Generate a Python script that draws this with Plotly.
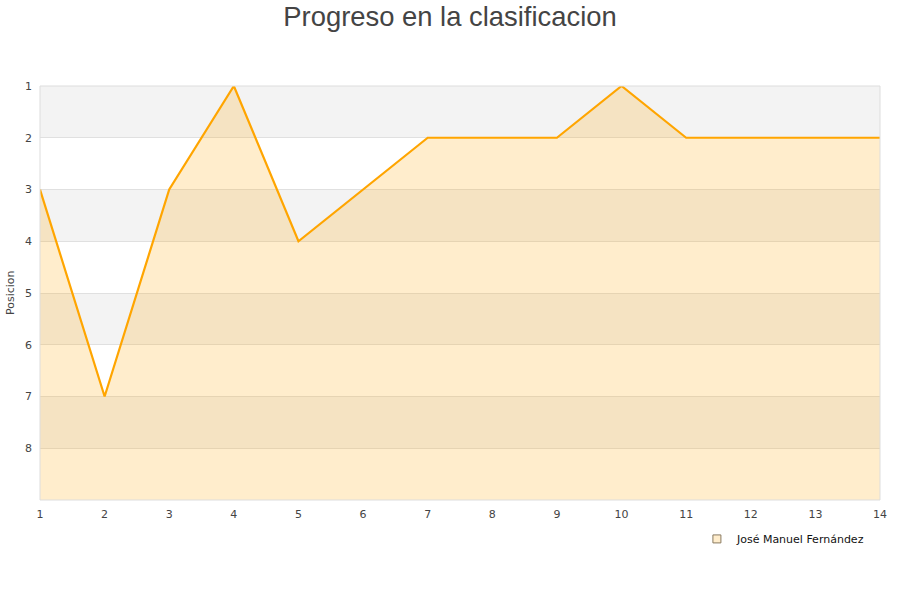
import plotly.graph_objects as go

jornadas = list(range(1, 15))
posiciones = [3, 7, 3, 1, 4, 3, 2, 2, 2, 1, 2, 2, 2, 2]
jugador = "José Manuel Fernández"
y_ticks = [1, 2, 3, 4, 5, 6, 7, 8]
y_bottom = 9

fig = go.Figure()

# baseline for fill
fig.add_trace(go.Scatter(x=jornadas, y=[y_bottom] * len(jornadas), mode="lines",
                         line=dict(width=0, color="rgba(0,0,0,0)"), showlegend=False,
                         hoverinfo="skip"))
fig.add_trace(go.Scatter(x=jornadas, y=posiciones, mode="lines", fill="tonexty",
                         fillcolor="rgba(255,165,0,0.2)",
                         line=dict(color="#ffa500", width=2.2), showlegend=False,
                         name=jugador))
# legend entry
fig.add_trace(go.Scatter(x=[None], y=[None], mode="markers", name=jugador,
                         marker=dict(symbol="square", size=8, color="#ffedcc",
                                     line=dict(color="#8a7a60", width=1))))

shapes = []
for k in range(1, 9, 2):
    shapes.append(dict(type="rect", xref="paper", yref="y", x0=0, x1=1, y0=k, y1=k + 1,
                       fillcolor="#f3f3f3", line=dict(width=0), layer="below"))
shapes.append(dict(type="rect", xref="paper", yref="paper", x0=0, x1=1, y0=0, y1=1,
                   line=dict(color="#dddddd", width=1), fillcolor="rgba(0,0,0,0)", layer="above"))

fig.update_layout(
    width=900, height=600,
    margin=dict(l=40, r=20, t=86, b=100, autoexpand=False),
    paper_bgcolor="white", plot_bgcolor="white",
    title=dict(text="Progreso en la clasificacion", x=0.5, xanchor="center",
               y=0.973, yanchor="middle",
               font=dict(family="Liberation Sans, Arial, sans-serif", size=27.4, color="#444444")),
    font=dict(family="DejaVu Sans, sans-serif", size=11, color="#444444"),
    shapes=shapes,
    xaxis=dict(range=[1, 14], tickvals=jornadas, showgrid=False, zeroline=False,
               showline=False, ticks="", automargin=False, ticklabelstandoff=6,
               tickfont=dict(size=11, color="#444444")),
    yaxis=dict(range=[y_bottom, 1], tickvals=y_ticks, showgrid=True, gridcolor="#e0e0e0",
               zeroline=False, showline=False, ticks="", automargin=False,
               ticklabelstandoff=7,
               tickfont=dict(size=11, color="#444444")),
    annotations=[dict(text="Posicion", xref="paper", yref="paper", x=-0.0357, y=0.5,
                      xanchor="center", yanchor="middle", textangle=-90, showarrow=False,
                      font=dict(size=11, color="#444444"))],
    legend=dict(x=0.988, xanchor="right", y=-0.094, yanchor="middle",
                font=dict(size=11, color="#111111"), bgcolor="rgba(0,0,0,0)"),
    hovermode=False,
)

fig.write_html("out.html", config={"displayModeBar": False},
               post_script="document.body.style.margin='0';")
